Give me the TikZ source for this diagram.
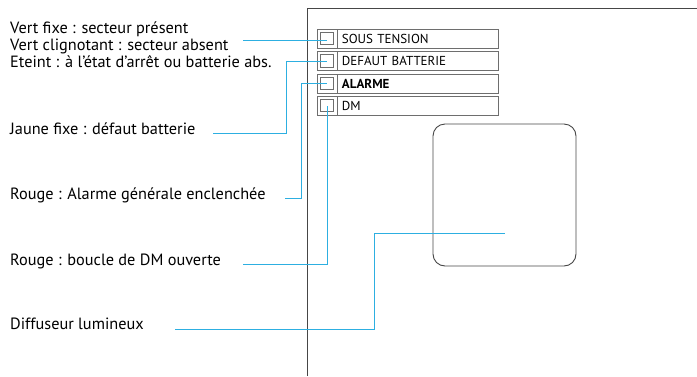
\documentclass[tikz,border=0pt]{standalone}
\usepackage{fontspec}
\setmainfont{PT Sans}
\usetikzlibrary{positioning}
\definecolor{leadblue}{RGB}{45,175,225}
\definecolor{framegray}{RGB}{70,70,70}
\definecolor{rowgray}{RGB}{110,110,110}

\begin{document}
\begin{tikzpicture}[
  x=1pt,y=-1pt,
  lbl/.style={anchor=base west,inner sep=0pt,align=left,
              font=\fontsize{16.3}{17}\selectfont},
  cell/.style={draw=rowgray,line width=0.9pt,minimum width=20pt,
               minimum height=19pt,inner sep=0pt},
  led/.style={draw=rowgray,line width=0.8pt,minimum size=12.5pt,inner sep=0pt},
  row/.style={draw=rowgray,line width=0.9pt,minimum width=161pt,
              minimum height=19pt,text width=153pt,inner xsep=4pt,inner ysep=0pt,
              align=left,font=\fontsize{13}{14}\selectfont},
  lead/.style={draw=leadblue,line width=1pt}
]
\useasboundingbox (0,0) rectangle (697,376);

% front panel
\draw[framegray,line width=1pt] (307,376) -- (307,8) -- (697,8);

\node[cell] (c1) at (327,38.5) {};
\node[cell] (c2) at (327,61) {};
\node[cell] (c3) at (327,83.5) {};
\node[cell] (c4) at (327,105.5) {};
\node[led] (l1) at (c1) {};
\node[led] (l2) at (c2) {};
\node[led] (l3) at (c3) {};
\node[led] (l4) at (c4) {};
\node[row,right=0pt of c1] (r1) {SOUS TENSION};
\node[row,right=0pt of c2] (r2) {DEFAUT BATTERIE};
\node[row,right=0pt of c3] (r3) {\textbf{ALARME}};
\node[row,right=0pt of c4] (r4) {DM};

\node[draw=framegray,line width=0.9pt,rounded corners=12pt,
      minimum width=143pt,minimum height=142pt] (dif) at (504.5,195) {};

% legends (base of a multi-line node = its last line)
\node[lbl] (t1) at (10,67) {Vert fixe : secteur présent\\
  Vert clignotant : secteur absent\\
  Eteint : à l’état d’arrêt ou batterie abs.};
\node[lbl] (t2) at (10,134) {Jaune fixe : défaut batterie};
\node[lbl] (t3) at (10,199) {Rouge : Alarme générale enclenchée};
\node[lbl] (t4) at (10,265) {Rouge : boucle de DM ouverte};
\node[lbl] (t5) at (10,329) {Diffuseur lumineux};

\coordinate (s1) at (243,40.5);
\coordinate (s2) at (213,133);
\coordinate (k2) at (286,61);
\coordinate (s3) at (285,198);
\coordinate (k3) at (301,83.5);
\coordinate (s4) at (243,264);
\coordinate (s5) at (175,329);
\coordinate (k5) at (374,233);
\coordinate (e5) at (505,233);

\draw[lead] (s1) -- (l1 |- s1);
\draw[lead] (s2) -| (k2) -- (l2.center);
\draw[lead] (s3) -| (k3) -- (l3.center);
\draw[lead] (s4) -| (l4.center);
\draw[lead] (s5) -| (k5) -- (e5);
\end{tikzpicture}
\end{document}
